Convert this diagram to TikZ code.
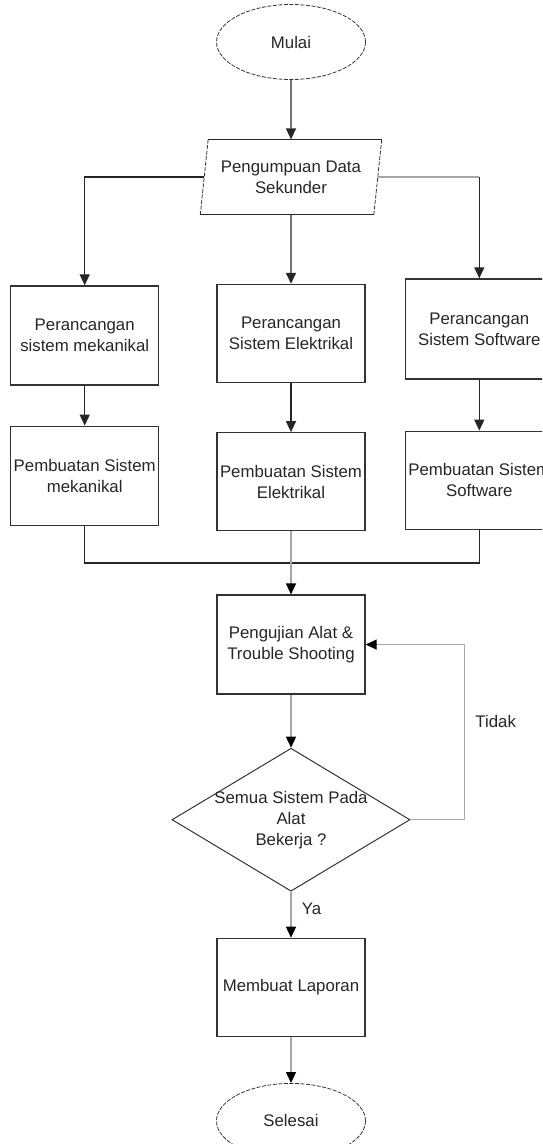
\documentclass[tikz,border=0pt]{standalone}
\usepackage{fontspec}
\setmainfont{Liberation Sans}
\usepackage{tikz}
\usetikzlibrary{shapes.geometric, arrows.meta, positioning, calc}

\begin{document}
\begin{tikzpicture}[x=1pt, y=-1pt,
  txt/.style={font=\fontsize{16.8}{21}\selectfont, text=black!85, align=center},
  term/.style={ellipse, draw=black!80, line width=0.8pt, dash pattern=on 4pt off 1.5pt, minimum width=149pt, minimum height=75pt, inner sep=0pt, txt},
  procbox/.style={rectangle, draw=black!80, line width=1.3pt, minimum width=148pt, minimum height=98pt, inner sep=0pt, txt},
  io/.style={trapezium, trapezium left angle=76.5, trapezium right angle=103.5, trapezium stretches body, minimum width=181pt, minimum height=75pt, inner sep=0pt, txt},
  decision/.style={diamond, draw=black!80, line width=1pt, minimum width=238pt, minimum height=143pt, inner sep=0pt},
  link/.style={line width=1.3pt, draw=black!85},
  arr/.style={link, -{Triangle[length=11pt, width=10pt]}},
  arrgray/.style={line width=1.3pt, draw=black!35, -{Triangle[length=11pt, width=10pt, color=black]}}
]
  \clip (0,0) rectangle (542,1144);

  \node[term] (mulai) at (291,42) {Mulai};
  \node[io, below=59.5pt of mulai] (data) {Pengumpuan Data\\Sekunder};
  \draw[link] (data.top left corner) -- (data.top right corner);
  \draw[link] (data.bottom left corner) -- (data.bottom right corner);
  \draw[line width=0.8pt, draw=black!80, dash pattern=on 4pt off 1.5pt] (data.bottom left corner) -- (data.top left corner);
  \draw[line width=0.8pt, draw=black!80, dash pattern=on 4pt off 1.5pt] (data.bottom right corner) -- (data.top right corner);

  % perancangan
  \node[procbox, below=69pt of data] (rancElek) {Perancangan\\Sistem Elektrikal};
  \node[procbox, minimum height=99pt, left=57pt of rancElek, yshift=-2pt] (rancMek) {Perancangan\\sistem mekanikal};
  \node[procbox, minimum height=100pt, right=39pt of rancElek, yshift=4.5pt] (rancSoft) {Perancangan\\Sistem Software};

  % pembuatan
  \node[procbox, below=49pt of rancElek] (buatElek) {Pembuatan Sistem\\Elektrikal};
  \node[procbox, minimum height=99pt, below=40pt of rancMek] (buatMek) {Pembuatan Sistem\\mekanikal};
  \node[procbox, below=51pt of rancSoft] (buatSoft) {Pembuatan Sistem\\Software};

  \node[procbox, minimum height=99pt, below=63pt of buatElek] (uji) {Pengujian Alat \&\\Trouble Shooting};
  \node[decision, below=53pt of uji] (cek) {};
  \node[txt] (cekTeks) at (cek) {Semua Sistem Pada\\Alat\\Bekerja ?};
  \node[procbox, below=46pt of cek] (laporan) {Membuat Laporan};
  \node[term, below=46pt of laporan] (selesai) {Selesai};

  \draw[arr] (mulai) -- (data);
  \draw[arr] (data.west) -| (rancMek.north);
  \draw[arr] (data) -- (rancElek);
  \coordinate (kanan) at (rancSoft.north |- data.east);
  \draw[link, draw=black!35] (data.east) -- (kanan);
  \draw[arr] (kanan) -- (rancSoft.north);

  \draw[arr] (rancMek) -- (buatMek);
  \draw[arr] (rancElek) -- (buatElek);
  \draw[arr] (rancSoft) -- (buatSoft);

  \coordinate (gabung) at ($(buatElek.south)!0.5!(uji.north)$);
  \draw[link] (buatMek.south) |- (gabung) -| (buatSoft.south);
  \draw[arrgray] (buatElek) -- (uji);
  \draw[arrgray] (uji) -- (cek);

  \coordinate (balik) at ($(cek.east)+(54,0)$);
  \draw[arrgray] (cek.east) -- (balik) |- node[txt, right=7pt, pos=0.28] (tidak) {Tidak} (uji.east);
  \draw[arrgray] (cek) -- node[txt, right=7pt, pos=0.37] (ya) {Ya} (laporan);
  \draw[arrgray] (laporan) -- (selesai);
\end{tikzpicture}
\end{document}
